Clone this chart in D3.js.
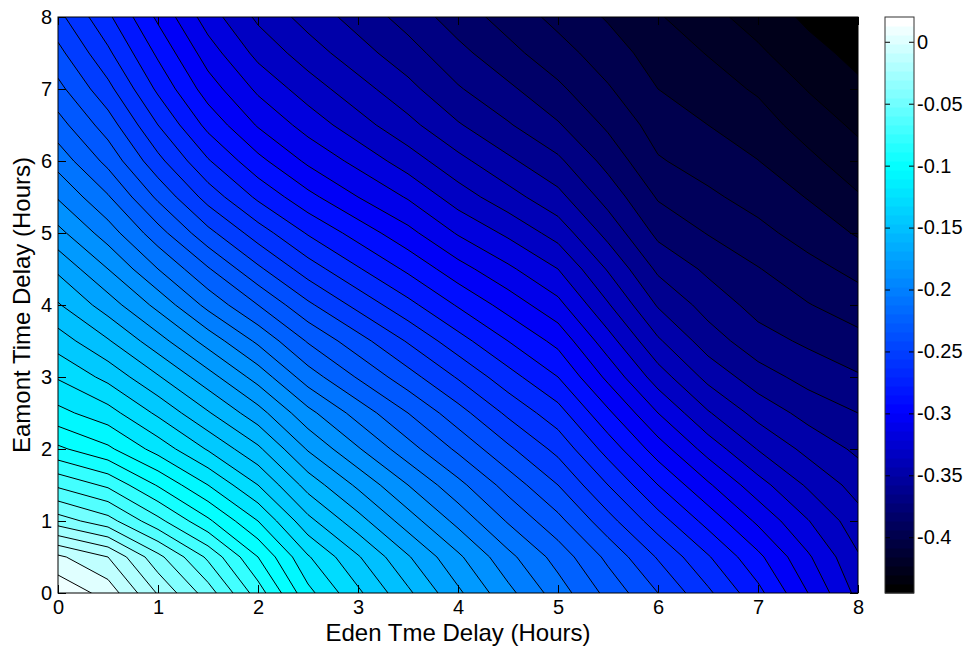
<!DOCTYPE html>
<html>
<head>
<meta charset="utf-8">
<script src="https://cdn.jsdelivr.net/npm/d3@7"></script>
<style>
  html, body { margin: 0; padding: 0; background: #ffffff; }
  svg text { font-family: "Liberation Sans", Arial, Helvetica, sans-serif; fill: #000; }
</style>
</head>
<body>
<svg id="chart" width="970" height="653"></svg>
<script>
// Sample positions of the surface (hours)
const edenDelay   = [0, 0.5, 1, 1.5, 2, 2.5, 3, 3.5, 4, 4.5, 5, 5.5, 6, 6.5, 7, 7.5, 8];
const eamontDelay = [0, 0.5, 1, 1.5, 2, 2.5, 3, 3.5, 4, 4.5, 5, 5.5, 6, 6.5, 7, 7.5, 8];

// Surface values: one row per Eamont delay (bottom row first), one column per Eden delay
const surfaceRows = [
  [ 0.008,-0.004,-0.031,-0.055,-0.085,-0.117,-0.138,-0.158,-0.178,-0.197,-0.215,-0.233,-0.250,-0.268,-0.287,-0.310,-0.333],
  [-0.008,-0.020,-0.047,-0.072,-0.100,-0.129,-0.149,-0.169,-0.188,-0.207,-0.224,-0.2425,-0.261,-0.279,-0.2975,-0.3185,-0.339],
  [-0.045,-0.056,-0.077,-0.098,-0.120,-0.147,-0.166,-0.185,-0.203,-0.221,-0.237,-0.2563,-0.2755,-0.2935,-0.312,-0.3295,-0.346],
  [-0.072,-0.082,-0.101,-0.120,-0.140,-0.164,-0.182,-0.200,-0.217,-0.234,-0.250,-0.270,-0.290,-0.3085,-0.326,-0.3415,-0.354],
  [-0.098,-0.108,-0.124,-0.141,-0.158,-0.181,-0.199,-0.216,-0.232,-0.248,-0.263,-0.284,-0.305,-0.324,-0.3405,-0.353,-0.362],
  [-0.117,-0.126,-0.142,-0.159,-0.176,-0.197,-0.214,-0.230,-0.246,-0.262,-0.276,-0.298,-0.320,-0.339,-0.3535,-0.3635,-0.370],
  [-0.131,-0.143,-0.159,-0.176,-0.194,-0.215,-0.231,-0.246,-0.261,-0.276,-0.290,-0.3125,-0.335,-0.353,-0.3655,-0.3735,-0.379],
  [-0.145,-0.159,-0.176,-0.194,-0.212,-0.231,-0.246,-0.261,-0.276,-0.290,-0.303,-0.3258,-0.3485,-0.365,-0.376,-0.3818,-0.387],
  [-0.159,-0.175,-0.193,-0.213,-0.230,-0.248,-0.263,-0.277,-0.291,-0.304,-0.317,-0.339,-0.361,-0.374,-0.3835,-0.3895,-0.395],
  [-0.172,-0.190,-0.210,-0.229,-0.248,-0.265,-0.279,-0.292,-0.306,-0.318,-0.330,-0.351,-0.372,-0.382,-0.3895,-0.3965,-0.403],
  [-0.187,-0.205,-0.226,-0.247,-0.265,-0.281,-0.294,-0.307,-0.321,-0.332,-0.344,-0.3633,-0.3825,-0.3905,-0.397,-0.4043,-0.411],
  [-0.201,-0.219,-0.242,-0.264,-0.282,-0.297,-0.310,-0.321,-0.335,-0.346,-0.357,-0.374,-0.391,-0.398,-0.404,-0.4105,-0.419],
  [-0.214,-0.233,-0.257,-0.279,-0.297,-0.312,-0.323,-0.335,-0.347,-0.358,-0.368,-0.3835,-0.399,-0.4045,-0.4098,-0.4175,-0.426],
  [-0.226,-0.245,-0.270,-0.293,-0.311,-0.324,-0.336,-0.347,-0.359,-0.369,-0.379,-0.3918,-0.4045,-0.410,-0.4155,-0.4243,-0.432],
  [-0.237,-0.257,-0.282,-0.305,-0.322,-0.335,-0.346,-0.357,-0.369,-0.378,-0.388,-0.399,-0.410,-0.4155,-0.4213,-0.4305,-0.438],
  [-0.247,-0.268,-0.292,-0.315,-0.333,-0.345,-0.356,-0.366,-0.377,-0.387,-0.396,-0.4053,-0.4145,-0.4205,-0.4283,-0.4365,-0.443],
  [-0.257,-0.278,-0.302,-0.325,-0.342,-0.354,-0.364,-0.374,-0.385,-0.394,-0.403,-0.411,-0.419,-0.427,-0.434,-0.442,-0.448]
];

// Contour levels
const contourLevels = [
  -0.44,-0.43,-0.42,-0.41,-0.40,-0.39,-0.38,-0.37,-0.36,-0.35,-0.34,-0.33,-0.32,-0.31,-0.30,
  -0.29,-0.28,-0.27,-0.26,-0.25,-0.24,-0.23,-0.22,-0.21,-0.20,-0.19,-0.18,-0.17,-0.16,-0.15,
  -0.14,-0.13,-0.12,-0.11,-0.10,-0.09,-0.08,-0.07,-0.06,-0.05,-0.04,-0.03,-0.02,-0.01,0.00,0.01
];

// Axis ticks
const xTicks = [0, 1, 2, 3, 4, 5, 6, 7, 8];
const yTicks = [0, 1, 2, 3, 4, 5, 6, 7, 8];
const colorbarTicks = [0, -0.05, -0.1, -0.15, -0.2, -0.25, -0.3, -0.35, -0.4];
const colorbarTickLabels = ["0", "-0.05", "-0.1", "-0.15", "-0.2", "-0.25", "-0.3", "-0.35", "-0.4"];

// Colour limits and colormap anchors (black -> blue -> cyan -> white, 64 entries)
const colorLimits = [-0.445, 0.02];
const colormapAnchors = [-0.445, -0.30, -0.10, 0.02];
const colormapColors = ["#000000", "#0000ff", "#00ffff", "#ffffff"];
const colormapSize = 64;

const xLabel = "Eden Tme Delay (Hours)";
const yLabel = "Eamont Time Delay (Hours)";

// ---------------------------------------------------------------------------
const plot = { left: 58, right: 858, top: 17, bottom: 593 };
const cbar = { left: 885, right: 914 };
const tickFont = 20, labelFont = 24;

const svg = d3.select("#chart");

const x = d3.scaleLinear().domain([0, 8]).range([plot.left, plot.right]);
const y = d3.scaleLinear().domain([0, 8]).range([plot.bottom, plot.top]);

// discrete colormap
const anchorScale = d3.scaleLinear().domain(colormapAnchors).range(colormapColors)
  .interpolate(d3.interpolateRgb).clamp(true);
const cmap = d3.range(colormapSize).map(k =>
  anchorScale(colorLimits[0] + (k / (colormapSize - 1)) * (colorLimits[1] - colorLimits[0])));
const cIndex = d3.scaleQuantize().domain(colorLimits).range(d3.range(colormapSize));
const colorOf = v => cmap[cIndex(Math.max(colorLimits[0], Math.min(colorLimits[1], v)))];

// contour geometry: grid sample i sits at contour coordinate i + 0.5
const nx = edenDelay.length, ny = eamontDelay.length;
const values = [];
for (let j = 0; j < ny; j++) for (let i = 0; i < nx; i++) values.push(surfaceRows[j][i]);

const gx = d3.scaleLinear().domain([0.5, nx - 0.5]).range([x(edenDelay[0]), x(edenDelay[nx - 1])]);
const gy = d3.scaleLinear().domain([0.5, ny - 0.5]).range([y(eamontDelay[0]), y(eamontDelay[ny - 1])]);
const proj = d3.geoTransform({ point(px, py) { this.stream.point(gx(px), gy(py)); } });
const path = d3.geoPath(proj);

const bands = d3.contours().size([nx, ny]).thresholds(contourLevels)(values);
// each band is shaded with the level that closes it from above
const bandColor = (d, k) => colorOf(k + 1 < contourLevels.length ? contourLevels[k + 1] : colorLimits[1]);

svg.append("defs").append("clipPath").attr("id", "plotClip")
  .append("rect")
  .attr("x", plot.left).attr("y", plot.top)
  .attr("width", plot.right - plot.left).attr("height", plot.bottom - plot.top);

const area = svg.append("g").attr("clip-path", "url(#plotClip)");

area.append("rect")
  .attr("x", plot.left).attr("y", plot.top)
  .attr("width", plot.right - plot.left).attr("height", plot.bottom - plot.top)
  .attr("fill", colorOf(contourLevels[0]));

area.selectAll("path.band").data(bands).join("path")
  .attr("class", "band")
  .attr("d", path)
  .attr("fill", bandColor)
  .attr("stroke", "none");

area.selectAll("path.line").data(bands).join("path")
  .attr("class", "line")
  .attr("d", path)
  .attr("fill", "none")
  .attr("stroke", "#000")
  .attr("stroke-width", 1)
  .attr("stroke-linejoin", "round");

// axes with inward ticks on all four sides
const tickLen = 8;
const gBottom = svg.append("g").attr("transform", `translate(0,${plot.bottom})`)
  .call(d3.axisBottom(x).tickValues(xTicks).tickFormat(d3.format("d"))
    .tickSizeInner(-tickLen).tickSizeOuter(0).tickPadding(7));
const gTop = svg.append("g").attr("transform", `translate(0,${plot.top})`)
  .call(d3.axisTop(x).tickValues(xTicks).tickFormat("")
    .tickSizeInner(-tickLen).tickSizeOuter(0));
const gLeft = svg.append("g").attr("transform", `translate(${plot.left},0)`)
  .call(d3.axisLeft(y).tickValues(yTicks).tickFormat(d3.format("d"))
    .tickSizeInner(-tickLen).tickSizeOuter(0).tickPadding(6));
const gRight = svg.append("g").attr("transform", `translate(${plot.right},0)`)
  .call(d3.axisRight(y).tickValues(yTicks).tickFormat("")
    .tickSizeInner(-tickLen).tickSizeOuter(0));

[gBottom, gTop, gLeft, gRight].forEach(g => {
  g.select(".domain").remove();
  g.selectAll(".tick line").attr("stroke", "#000").attr("stroke-width", 1);
  g.selectAll(".tick text").attr("font-size", tickFont).attr("font-family", null);
});

svg.append("rect")
  .attr("x", plot.left).attr("y", plot.top)
  .attr("width", plot.right - plot.left).attr("height", plot.bottom - plot.top)
  .attr("fill", "none").attr("stroke", "#000").attr("stroke-width", 1);

// axis titles
svg.append("text")
  .attr("text-anchor", "middle")
  .attr("font-size", labelFont)
  .attr("x", (plot.left + plot.right) / 2).attr("y", 641)
  .text(xLabel);
svg.append("text")
  .attr("text-anchor", "middle")
  .attr("font-size", labelFont)
  .attr("transform", `translate(30,${(plot.top + plot.bottom) / 2}) rotate(-90)`)
  .text(yLabel);

// colorbar
const cy = d3.scaleLinear().domain(colorLimits).range([plot.bottom, plot.top]);
const step = (colorLimits[1] - colorLimits[0]) / colormapSize;
svg.append("g").selectAll("rect").data(cmap).join("rect")
  .attr("x", cbar.left)
  .attr("width", cbar.right - cbar.left)
  .attr("y", (c, k) => cy(colorLimits[0] + (k + 1) * step))
  .attr("height", (c, k) => cy(colorLimits[0] + k * step) - cy(colorLimits[0] + (k + 1) * step) + 0.5)
  .attr("fill", c => c);

const gCbR = svg.append("g").attr("transform", `translate(${cbar.right},0)`)
  .call(d3.axisRight(cy).tickValues(colorbarTicks)
    .tickFormat((d, k) => colorbarTickLabels[k])
    .tickSizeInner(-5).tickSizeOuter(0).tickPadding(3));
const gCbL = svg.append("g").attr("transform", `translate(${cbar.left},0)`)
  .call(d3.axisLeft(cy).tickValues(colorbarTicks).tickFormat("")
    .tickSizeInner(-5).tickSizeOuter(0));
[gCbR, gCbL].forEach(g => {
  g.select(".domain").remove();
  g.selectAll(".tick line").attr("stroke", "#000");
  g.selectAll(".tick text").attr("font-size", tickFont).attr("font-family", null);
});

svg.append("rect")
  .attr("x", cbar.left).attr("y", plot.top)
  .attr("width", cbar.right - cbar.left).attr("height", plot.bottom - plot.top)
  .attr("fill", "none").attr("stroke", "#333").attr("stroke-width", 1);
</script>
</body>
</html>
